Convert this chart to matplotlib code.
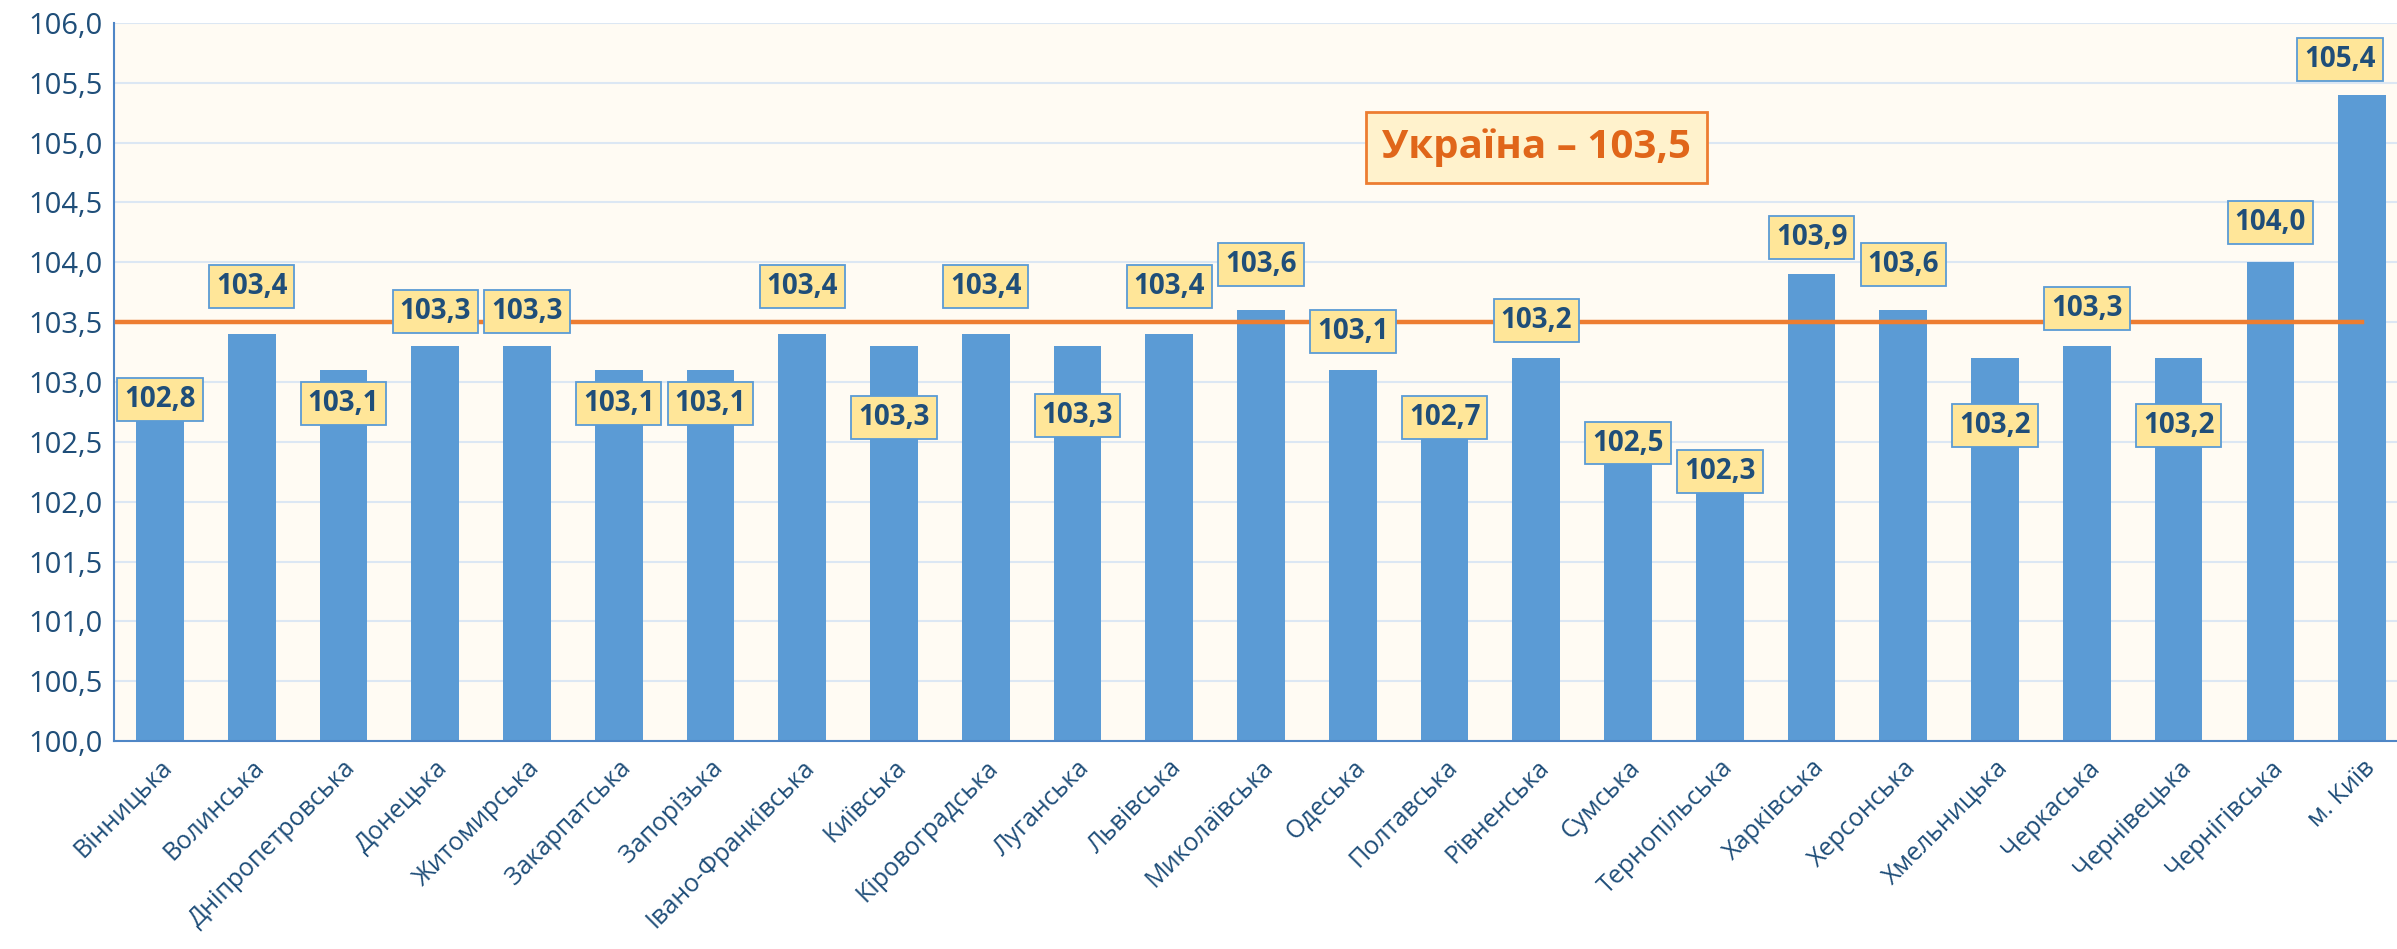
import matplotlib.pyplot as plt
import numpy as np

plt.rcParams['font.family'] = ['Open Sans', 'DejaVu Sans']

# регіони та індекси
regions = ['Вінницька', 'Волинська', 'Дніпропетровська', 'Донецька', 'Житомирська',
           'Закарпатська', 'Запорізька', 'Івано-Франківська', 'Київська', 'Кіровоградська',
           'Луганська', 'Львівська', 'Миколаївська', 'Одеська', 'Полтавська',
           'Рівненська', 'Сумська', 'Тернопільська', 'Харківська', 'Херсонська',
           'Хмельницька', 'Черкаська', 'Чернівецька', 'Чернігівська', 'м. Київ']
values = [102.8, 103.4, 103.1, 103.3, 103.3, 103.1, 103.1, 103.4, 103.3, 103.4,
          103.3, 103.4, 103.6, 103.1, 102.7, 103.2, 102.5, 102.3, 103.9, 103.6,
          103.2, 103.3, 103.2, 104.0, 105.4]
ukraine = 103.5

# де стоять підписи (у одиницях осі y)
label_y = [102.85, 103.80, 102.82, 103.59, 103.59, 102.82, 102.82, 103.80, 102.70, 103.80,
           102.72, 103.80, 103.98, 103.42, 102.70, 103.51, 102.49, 102.25, 104.21, 103.98,
           102.64, 103.61, 102.64, 104.33, 105.69]

dark = '#1F4E79'
x = np.arange(len(regions))
label_x = x.astype(float)
label_x[-1] -= 0.24  # останній підпис трохи лівіше, щоб не обрізався

fig = plt.figure(figsize=(23.97, 9.49), dpi=100)
ax = fig.add_axes([0.0476, 0.219, 0.9524, 0.757])
ax.set_facecolor('#FFFBF3')

ax.bar(x, values, width=0.52, color='#5B9BD5', zorder=2)
ax.plot([-0.47, len(regions) - 1], [ukraine, ukraine], color='#ED7D31', lw=3.2, zorder=3)

for i, v in enumerate(values):
    ax.text(label_x[i], label_y[i], f'{v:.1f}'.replace('.', ','), ha='center', va='center',
            fontsize=20, fontweight='bold', color=dark, zorder=4,
            bbox=dict(boxstyle='square,pad=0.25', fc='#FFE699', ec='#5B9BD5', lw=1.3))

ax.text(15, 104.96, 'Україна – ' + f'{ukraine:.1f}'.replace('.', ','), ha='center', va='center',
        fontsize=29, fontweight='bold', color='#E0661A', zorder=4,
        bbox=dict(boxstyle='square,pad=0.4', fc='#FFF2CC', ec='#ED7D31', lw=2))

ax.set_xlim(-0.5, len(regions) - 0.62)
ax.set_ylim(100, 106)
yt = np.arange(100, 106.01, 0.5)
ax.set_yticks(yt)
ax.set_yticklabels([f'{t:.1f}'.replace('.', ',') for t in yt], fontsize=21, color=dark)
ax.set_xticks(x)
ax.set_xticklabels(regions, rotation=45, ha='right', va='top', rotation_mode='anchor',
                   fontsize=18, color=dark)
ax.tick_params(length=0, pad=8)
ax.tick_params(axis='x', pad=10)

ax.grid(axis='y', color='#DCE7F3', lw=1.5, zorder=0)
for s in ['top', 'right']:
    ax.spines[s].set_visible(False)
for s in ['left', 'bottom']:
    ax.spines[s].set_color('#4F86C6')
    ax.spines[s].set_linewidth(1.5)

fig.savefig('out.png', dpi=100)
